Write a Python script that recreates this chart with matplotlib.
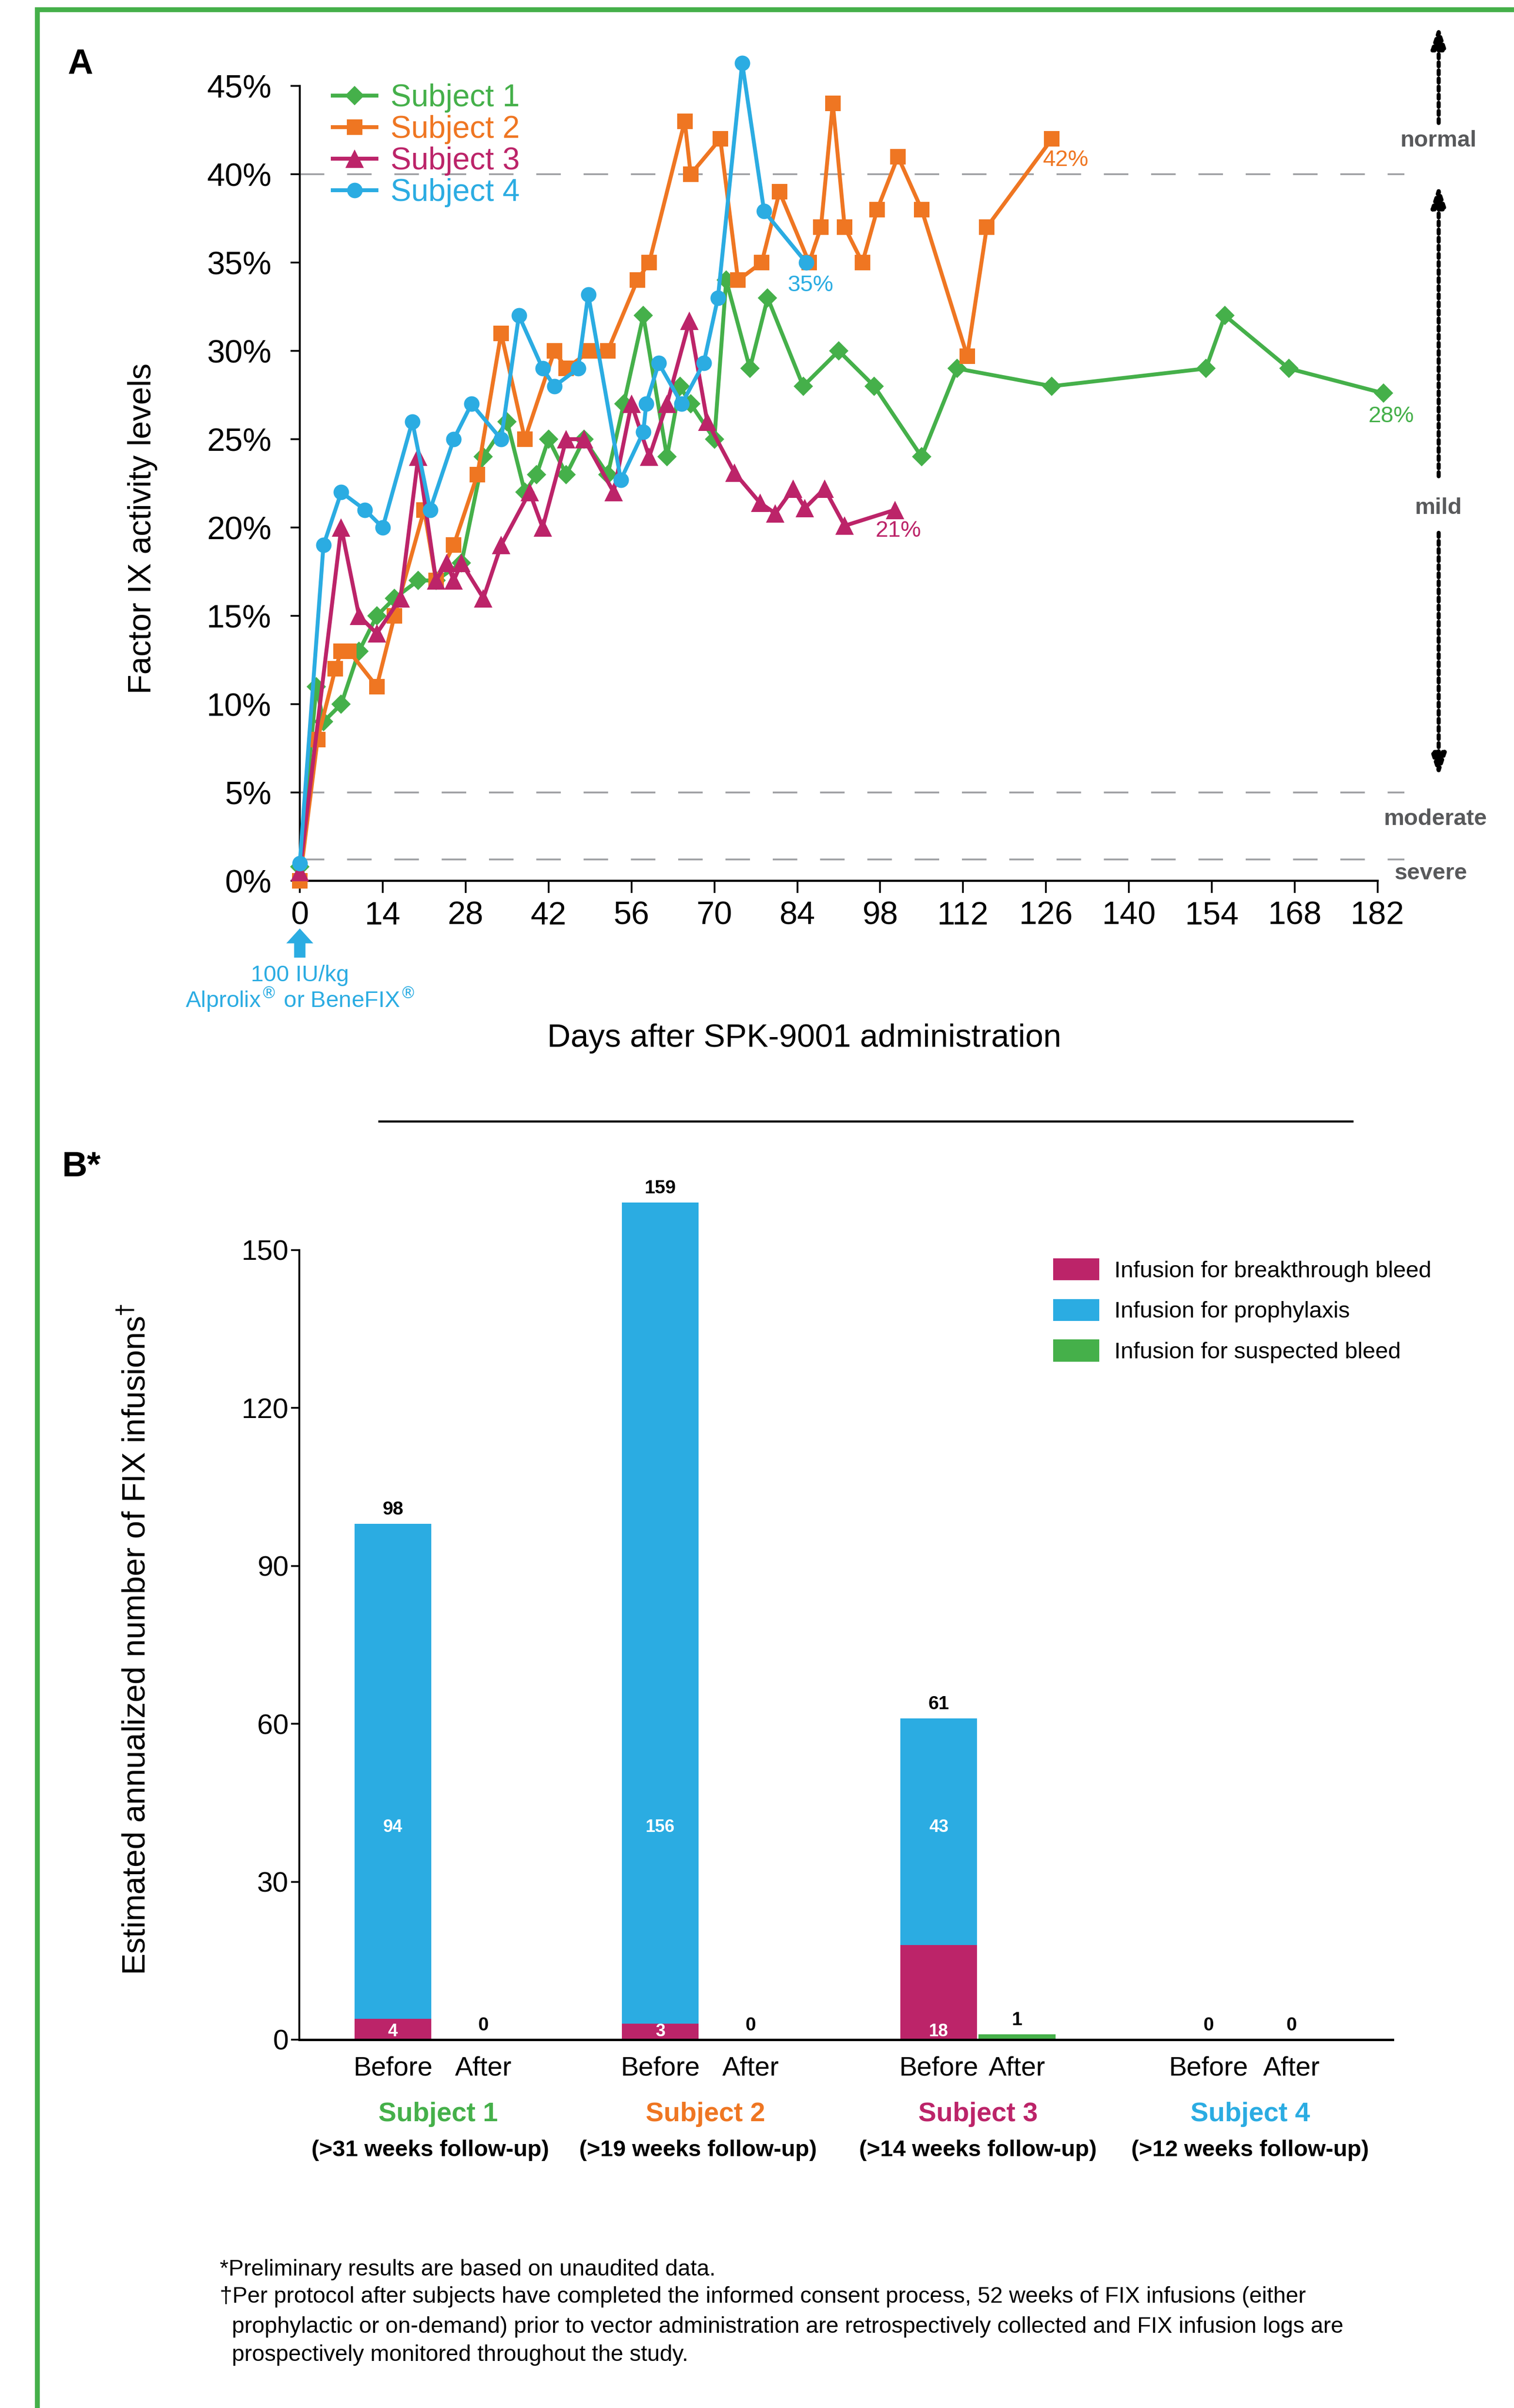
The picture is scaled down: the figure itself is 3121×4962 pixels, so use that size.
import matplotlib
matplotlib.use('Agg')
import matplotlib.pyplot as plt
import matplotlib.transforms as mtransforms
from matplotlib.lines import Line2D

plt.rcParams['font.family'] = ['Liberation Sans', 'DejaVu Sans']
plt.rcParams['mathtext.fontset'] = 'dejavusans'

# ---------------- data: panel A ----------------
s1_days = [0, 2.8, 4, 7, 10, 13, 16, 20, 23, 27.3, 31, 35, 38, 40, 42, 45, 48, 52, 54.7, 58,
           62, 64.2, 66, 70, 72, 76, 79, 85, 91, 97, 105, 111, 127, 153, 156.2, 167, 183]
s1_vals = [0.8, 11, 9, 10, 13, 15, 16, 17, 17, 18, 24, 26, 22, 23, 25, 23, 25, 23, 27, 32,
           24, 28, 27, 25, 34, 29, 33, 28, 30, 28, 24, 29, 28, 29, 32, 29, 27.6]
s2_days = [0, 3, 6, 7, 8.3, 13, 16, 21, 23, 26, 30, 34, 38, 43, 45, 49, 52, 57, 59, 65,
           66, 71, 74, 78, 81, 86, 88, 90, 92, 95, 97.5, 101, 105, 112.7, 116, 127]
s2_vals = [0, 8, 12, 13, 13, 11, 15, 21, 17, 19, 23, 31, 25, 30, 29, 30, 30, 34, 35, 43,
           40, 42, 34, 35, 39, 35, 37, 44, 37, 35, 38, 41, 38, 29.7, 37, 42]
s3_days = [0, 7, 10, 13, 17, 20, 23, 24.8, 26, 27.3, 31, 34, 38.8, 41, 45, 48, 53, 56, 59, 62,
           65.8, 68.8, 73.4, 77.7, 80.3, 83.3, 85.3, 88.6, 92, 100.5]
s3_vals = [0.5, 20, 15, 14, 16, 24, 17, 18, 17, 18, 16, 19, 22, 20, 25, 25, 22, 27, 24, 27,
           31.7, 26, 23.1, 21.4, 20.8, 22.2, 21.1, 22.2, 20.1, 21]
s4_days = [0, 4, 7, 11, 14, 19, 22, 26, 29, 34, 37, 41, 43, 47, 48.7, 54.2, 58, 58.5, 60.6,
           64.5, 68.2, 70.6, 74.7, 78.4, 85.5]
s4_vals = [1, 19, 22, 21, 20, 26, 21, 25, 27, 25, 32, 29, 28, 29, 33.2, 22.7, 25.4, 27, 29.3,
           27, 29.3, 33, 46.3, 37.9, 35]
subject_names = ['Subject 1', 'Subject 2', 'Subject 3', 'Subject 4']
final_labels = ['28%', '42%', '21%', '35%']
x_ticks_a = list(range(0, 183, 14))
y_ticks_a = list(range(0, 46, 5))
thresholds = [40, 5, 1.2]
severity = ['normal', 'mild', 'moderate', 'severe']

# ---------------- data: panel B ----------------
followups = ['(>31 weeks follow-up)', '(>19 weeks follow-up)',
             '(>14 weeks follow-up)', '(>12 weeks follow-up)']
period_labels = ['Before', 'After']
breakthrough = [4, 0, 3, 0, 18, 0, 0, 0]      # bars: S1 before, S1 after, S2 before, ...
prophylaxis = [94, 0, 156, 0, 43, 0, 0, 0]
suspected = [0, 0, 0, 0, 0, 1, 0, 0]
category_names = ['Infusion for breakthrough bleed', 'Infusion for prophylaxis',
                  'Infusion for suspected bleed']
y_ticks_b = [0, 30, 60, 90, 120, 150]

# ---------------- styling ----------------
GREEN = '#45B04A'
ORANGE = '#EF7622'
MAGENTA = '#BC2469'
BLUE = '#2BACE2'
GRAY = '#9D9FA2'
DARKGRAY = '#58595B'
colors = [GREEN, ORANGE, MAGENTA, BLUE]
markers = ['D', 's', '^', 'o']
msizes = [10, 11.5, 14, 11.5]

W, H = 3121, 4962
fig = plt.figure(figsize=(W / 200, H / 200), dpi=200)

# ---------------- panel A ----------------
ax1 = fig.add_axes([618 / W, 1 - 1815 / H, (2901 - 618) / W, (1815 - 177) / H])
ax1.set_xlim(0, 187)
ax1.set_ylim(0, 45)
for side in ['top', 'right']:
    ax1.spines[side].set_visible(False)
ax1.spines['bottom'].set_bounds(0, 182)
ax1.spines['left'].set_linewidth(1.4)
ax1.spines['bottom'].set_linewidth(1.6)

for t in thresholds:
    ax1.axhline(t, xmin=0, xmax=186.5 / 187, color=GRAY, lw=1.3,
                linestyle=(0, (14, 13)), zorder=1)

series = [(s1_days, s1_vals), (s2_days, s2_vals), (s3_days, s3_vals), (s4_days, s4_vals)]
for (d, v), c, m, ms, name in zip(series, colors, markers, msizes, subject_names):
    ax1.plot(d, v, color=c, marker=m, markersize=ms, markeredgewidth=0, lw=2.9,
             label=name, clip_on=False, zorder=3)

ax1.set_xticks(x_ticks_a)
ax1.set_yticks(y_ticks_a)
ax1.set_yticklabels([f'{v}%' for v in y_ticks_a])
ax1.tick_params(axis='y', length=7, width=1.3, pad=14, labelsize=24)
ax1.tick_params(axis='x', length=9, width=1.3, pad=6, labelsize=24)

# final value labels
ax1.text(180.4, 26.3, final_labels[0], color=GREEN, fontsize=17, va='center', ha='left')
ax1.text(125.5, 40.8, final_labels[1], color=ORANGE, fontsize=17, va='center', ha='left')
ax1.text(97.2, 19.8, final_labels[2], color=MAGENTA, fontsize=17, va='center', ha='left')
ax1.text(86.2, 33.7, final_labels[3], color=BLUE, fontsize=17, va='center', ha='center')

leg = ax1.legend(loc='upper left', bbox_to_anchor=(0.030, 1.003), frameon=False, fontsize=23,
                 handlelength=1.4, handletextpad=0.45, labelspacing=0.08, borderpad=0,
                 borderaxespad=0, labelcolor='linecolor', numpoints=1)

# severity annotations on the right
xr = 192.3
ax1.text(xr, 41.9, severity[0], color=DARKGRAY, fontsize=17, fontweight='bold',
         ha='center', va='center')
ax1.text(xr, 21.1, severity[1], color=DARKGRAY, fontsize=17, fontweight='bold',
         ha='center', va='center')
ax1.text(xr - 0.5, 3.5, severity[2], color=DARKGRAY, fontsize=17, fontweight='bold',
         ha='center', va='center')
ax1.text(xr - 1.3, 0.4, severity[3], color=DARKGRAY, fontsize=17, fontweight='bold',
         ha='center', va='center')
arrow_style = dict(arrowstyle='-|>,head_length=0.9,head_width=0.3', mutation_scale=15,
                   color='black', lw=3, linestyle=(0, (1, 1)), shrinkA=0, shrinkB=0)
for y0, y1 in [(42.9, 48.4), (22.9, 39.4), (19.7, 5.9)]:
    ax1.annotate('', xy=(xr, y1), xytext=(xr, y0), arrowprops=arrow_style,
                 annotation_clip=False)

# infusion marker under day 0
ax1.annotate('', xy=(0, -2.7), xytext=(0, -4.35),
             arrowprops=dict(arrowstyle='simple,head_length=0.55,head_width=1.0,tail_width=0.42',
                             mutation_scale=20, color=BLUE, lw=0, shrinkA=0, shrinkB=0),
             annotation_clip=False)
ax1.text(0, -5.35, '100 IU/kg', color=BLUE, fontsize=17, ha='center', va='center')
ax1.text(0, -6.75, r'Alprolix$^{®}$ or BeneFIX$^{®}$', color=BLUE, fontsize=17,
         ha='center', va='center')

fig.text(294 / W, 1 - 1089 / H, 'Factor IX activity levels', rotation=90, fontsize=24,
         ha='center', va='center')
fig.text(1658 / W, 1 - 2140 / H, 'Days after SPK-9001 administration', fontsize=24,
         ha='center', va='center')
fig.text(139 / W, 1 - 133 / H, 'A', fontsize=26, fontweight='bold', ha='left', va='center')

# divider line
fig.add_artist(Line2D([782 / W, 2788 / W], [1 - 2311 / H, 1 - 2311 / H], color='black',
                      lw=1.6, transform=fig.transFigure))

# ---------------- panel B ----------------
ax2 = fig.add_axes([617 / W, 1 - 4203 / H, (2871 - 617) / W, (4203 - 2413) / H])
ax2.set_xlim(-1.22, 13.04)
ax2.set_ylim(0, 165)
for side in ['top', 'right']:
    ax2.spines[side].set_visible(False)
ax2.spines['left'].set_bounds(0, 150)
ax2.spines['left'].set_linewidth(1.4)
ax2.spines['bottom'].set_linewidth(1.8)

before_x = [0, 3.487, 7.12, 10.64]
after_off = [1.18, 1.18, 1.02, 1.08]
label_shift = [-0.1, -0.1, 0.0, 0.0]
xpos = []
for b, o in zip(before_x, after_off):
    xpos += [b, b + o]

bottom2 = [a + b for a, b in zip(breakthrough, prophylaxis)]
b1 = ax2.bar(xpos, breakthrough, width=1.0, color=MAGENTA, label=category_names[0], zorder=2)
b2 = ax2.bar(xpos, prophylaxis, width=1.0, bottom=breakthrough, color=BLUE,
             label=category_names[1], zorder=2, clip_on=False)
b3 = ax2.bar(xpos, suspected, width=1.0, bottom=bottom2, color=GREEN,
             label=category_names[2], zorder=2)

totals = [a + b + c for a, b, c in zip(breakthrough, prophylaxis, suspected)]
for x, t in zip(xpos, totals):
    ax2.annotate(str(t), xy=(x, t), xytext=(0, 10.5), textcoords='offset points',
                 ha='center', va='center', fontsize=14, fontweight='bold',
                 annotation_clip=False)
for x, p, bt in zip(xpos, prophylaxis, breakthrough):
    if p > 0:
        ax2.text(x, 40.3, str(p), color='white', fontsize=13, fontweight='bold',
                 ha='center', va='center')
    if bt > 0:
        ax2.text(x, 1.5, str(bt), color='white', fontsize=13, fontweight='bold',
                 ha='center', va='center')

ax2.set_yticks(y_ticks_b)
ax2.tick_params(axis='y', length=6, width=1.3, pad=2, labelsize=21)
ax2.set_xticks(xpos)
ax2.set_xticklabels(period_labels * 4)
ax2.tick_params(axis='x', length=0, pad=12, labelsize=20)

trans = mtransforms.blended_transform_factory(ax2.transData, fig.transFigure)
for i, (name, fu) in enumerate(zip(subject_names, followups)):
    xc = before_x[i] + after_off[i] / 2
    ax2.text(xc, 1 - 4357 / H, name, color=colors[i], fontsize=20, fontweight='bold',
             ha='center', va='center', transform=trans)
    ax2.text(xc + label_shift[i], 1 - 4431 / H, fu, color='black', fontsize=17,
             fontweight='bold', ha='center', va='center', transform=trans)

ax2.legend(handles=[b1, b2, b3], loc='upper left', bbox_to_anchor=(0.6894, 0.8994),
           frameon=False, fontsize=17, handlelength=2.02, handleheight=1.1,
           handletextpad=0.64, labelspacing=0.74, borderpad=0, borderaxespad=0)

fig.text(281 / W, 1 - 3378 / H, r'Estimated annualized number of FIX infusions$^{\dagger}$',
         rotation=90, fontsize=24, ha='center', va='center')
fig.text(127 / W, 1 - 2405 / H, 'B*', fontsize=26, fontweight='bold', ha='left', va='center')

# footnotes
fs_note = 16.8
fig.text(453 / W, 1 - 4677 / H, '*Preliminary results are based on unaudited data.',
         fontsize=fs_note, ha='left', va='center')
fig.text(453 / W, 1 - 4733 / H,
         '\u2020Per protocol after subjects have completed the informed consent process, '
         '52 weeks of FIX infusions (either', fontsize=fs_note, ha='left', va='center')
fig.text(478 / W, 1 - 4795 / H,
         'prophylactic or on-demand) prior to vector administration are retrospectively '
         'collected and FIX infusion logs are', fontsize=fs_note, ha='left', va='center')
fig.text(478 / W, 1 - 4853 / H, 'prospectively monitored throughout the study.',
         fontsize=fs_note, ha='left', va='center')

# green frame (top and left)
fig.add_artist(Line2D([77 / W, 77 / W], [0, 1 - 20 / H], color=GREEN, lw=3.6,
                      transform=fig.transFigure))
fig.add_artist(Line2D([77 / W, 1], [1 - 20 / H, 1 - 20 / H], color=GREEN, lw=3.6,
                      transform=fig.transFigure))

fig.savefig('out.png', dpi=200, facecolor='white')
